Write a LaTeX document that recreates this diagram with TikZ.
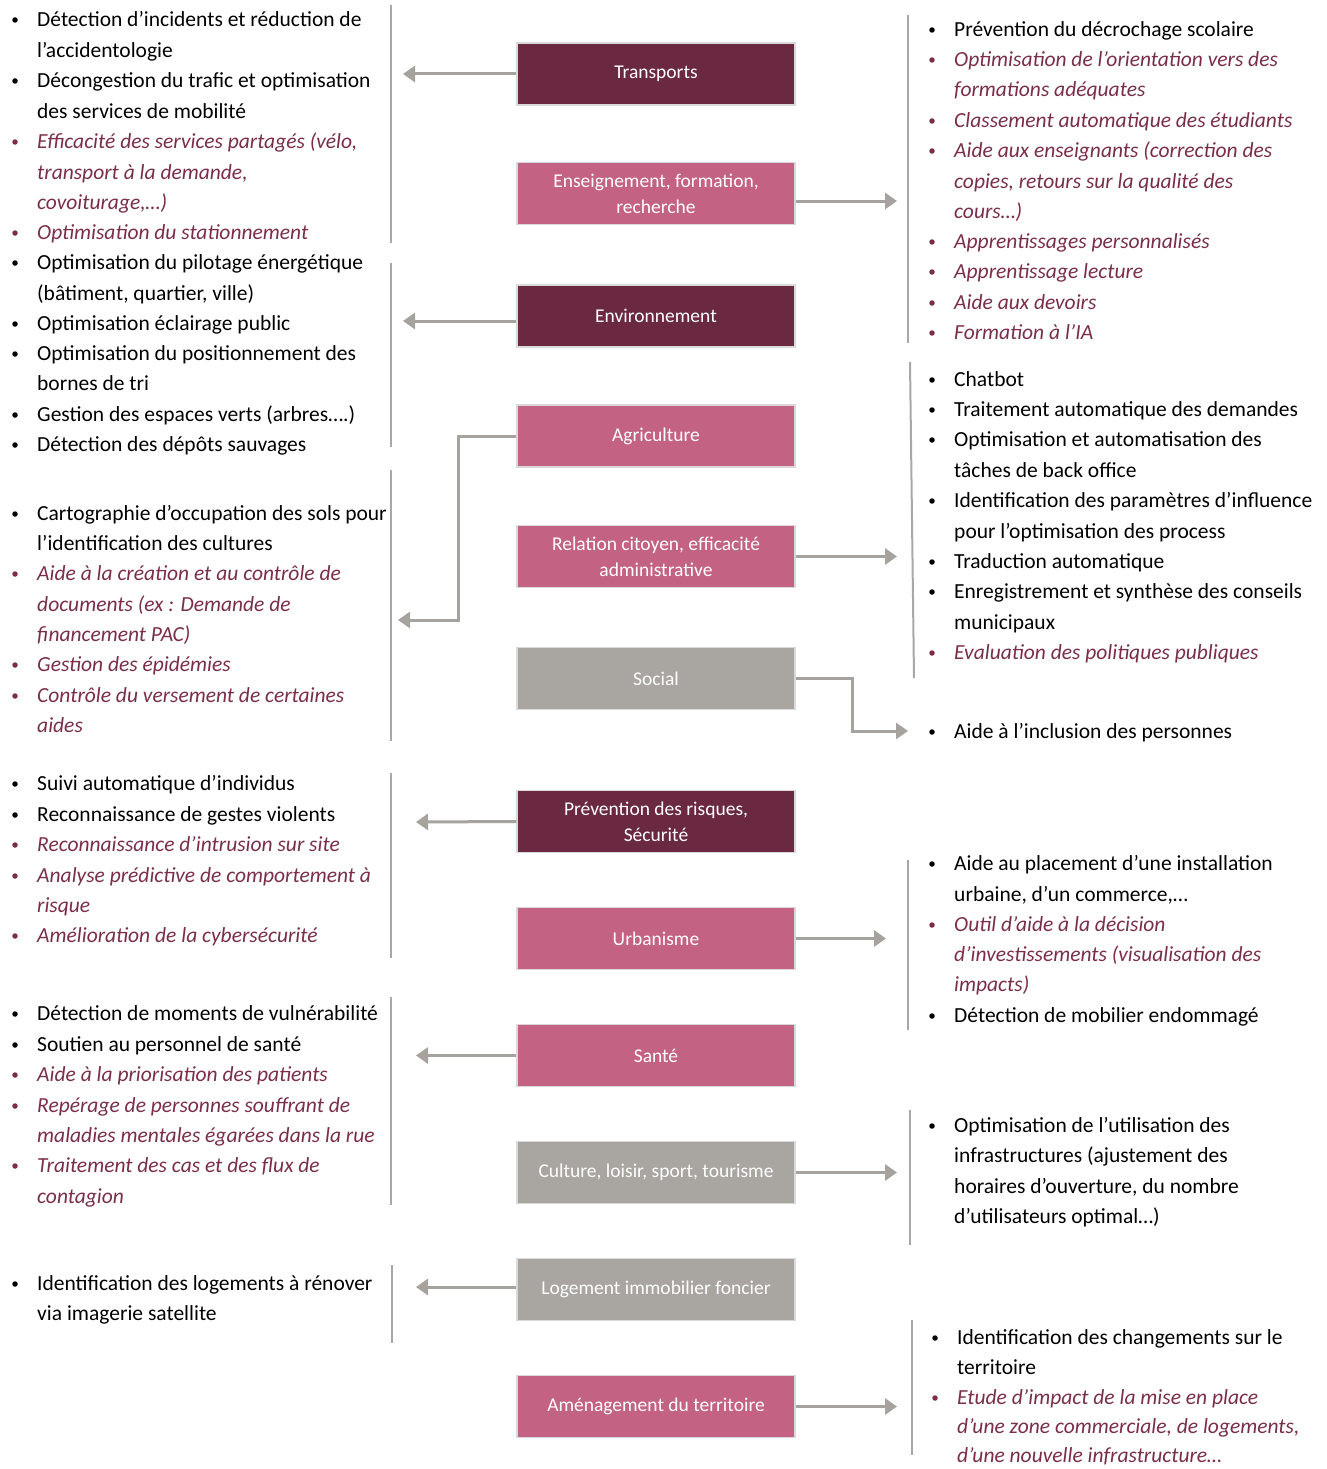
\documentclass[tikz,border=0pt]{standalone}
\usepackage{fontspec}
\setmainfont{Carlito}
\usetikzlibrary{arrows.meta}
\definecolor{cDark}{HTML}{6B2841}
\definecolor{cPink}{HTML}{C46283}
\definecolor{cGrey}{HTML}{A9A6A1}
\definecolor{cRed}{HTML}{7A2E4A}
\definecolor{cArrow}{HTML}{A6A39E}
\definecolor{cSep}{HTML}{A8A8A8}
\newcommand\txtfont{\fontsize{21.5}{26}\selectfont}
\newcommand\boxfont{\fontsize{19.5}{26}\selectfont}
\newcommand\ItN[4]{\node[txt,name=#1] at (#2+25,#3) {#4}; \node[bul,name=#1b] at (#2+3,#3) {};}
\newcommand\ItI[4]{\node[txti,name=#1] at (#2+25,#3) {#4}; \node[bul,fill=cRed,name=#1b] at (#2+3,#3) {};}
\newcommand\CoN[4]{\node[txt,name=#1] at (#2+25,#3) {#4};}
\newcommand\CoI[4]{\node[txti,name=#1] at (#2+25,#3) {#4};}
\tikzset{
 box/.style={minimum width=278pt, minimum height=62pt, inner sep=0pt, text=white, font=\boxfont, align=center, draw=black!15, line width=1.2pt},
 dk/.style={box, fill=cDark}, pk/.style={box, fill=cPink}, gy/.style={box, fill=cGrey},
 txt/.style={anchor=mid west, inner sep=0pt, font=\txtfont, yshift=-4.5pt},
 txti/.style={txt, text=cRed, font=\txtfont\itshape},
 bul/.style={circle, fill=black, inner sep=0pt, minimum size=5.5pt},
 arr/.style={draw=cArrow, line width=3pt, -{Triangle[length=12pt,width=16pt]}},
 sep/.style={draw=cSep, line width=2pt}
}
\begin{document}
\begin{tikzpicture}[x=1pt,y=-1pt]
\useasboundingbox[fill=white] (0,0) rectangle (1327,1469);
% boxes
\node[dk] (tr) at (656,74) {Transports};
\node[pk] (en) at (656,193.5) {Enseignement, formation,\\recherche};
\node[dk] (env) at (656,316) {Environnement};
\node[pk] (ag) at (656,436) {Agriculture};
\node[pk] (rc) at (656,556.5) {Relation citoyen, efficacité\\administrative};
\node[gy] (so) at (656,678.5) {Social};
\node[dk] (pr) at (656,821.5) {Prévention des risques,\\Sécurité};
\node[pk] (ur) at (656,938.5) {Urbanisme};
\node[pk] (sa) at (656,1055.5) {Santé};
\node[gy] (cu) at (656,1172.5) {Culture, loisir, sport, tourisme};
\node[gy] (lo) at (656,1289.5) {Logement immobilier foncier};
\node[pk] (am) at (656,1406.5) {Aménagement du territoire};
% connector ends
\coordinate (trE) at (403,74);
\coordinate (envE) at (403,321);
\coordinate (agE) at (398,620);
\coordinate (prE) at (416,822);
\coordinate (saE) at (416,1055.5);
\coordinate (loE) at (416,1287);
\coordinate (enE) at (897,201);
\coordinate (rcE) at (897,556.5);
\coordinate (soE) at (908,731);
\coordinate (urE) at (886,938.5);
\coordinate (cuE) at (897,1172.5);
\coordinate (amE) at (897,1406.5);
\draw[arr] (tr.west) -- (trE);
\draw[arr] (env.west |- envE) -- (envE);
\draw[arr] (ag.west) -- (458,436) -- (458,620) -- (agE);
\draw[arr] (pr.west) -- (prE);
\draw[arr] (sa.west) -- (saE);
\draw[arr] (lo.west |- loE) -- (loE);
\draw[arr] (en.east |- enE) -- (enE);
\draw[arr] (rc.east) -- (rcE);
\draw[arr] (so.east) -- (852,678.5) -- (852,731) -- (soE);
\draw[arr] (ur.east) -- (urE);
\draw[arr] (cu.east) -- (cuE);
\draw[arr] (am.east) -- (amE);
% separators
\draw[sep] (391,5) -- (391,243);
\draw[sep] (391,263) -- (391,447);
\draw[sep] (391,470) -- (391,741);
\draw[sep] (391,773) -- (391,958);
\draw[sep] (391,997) -- (391,1205);
\draw[sep] (392,1265) -- (392,1343);
\draw[sep] (908,15) -- (908,343);
\draw[sep] (910,362) -- (914,678);
\draw[sep] (908,860) -- (908,1030);
\draw[sep] (910,1110) -- (910,1245);
\draw[sep] (912,1320) -- (912,1455);
% left texts
\ItN{a1}{12}{20}{Détection d’incidents et réduction de}
\CoN{a1c}{12}{51}{l’accidentologie}
\ItN{a2}{12}{81}{Décongestion du trafic et optimisation}
\CoN{a2c}{12}{112}{des services de mobilité}
\ItI{a3}{12}{142}{Efficacité des services partagés (vélo,}
\CoI{a3c}{12}{173}{transport à la demande,}
\CoI{a3d}{12}{203}{covoiturage,…)}
\ItI{a4}{12}{233}{Optimisation du stationnement}
\ItN{b1}{12}{263}{Optimisation du pilotage énergétique}
\CoN{b1c}{12}{294}{(bâtiment, quartier, ville)}
\ItN{b2}{12}{324}{Optimisation éclairage public}
\ItN{b3}{12}{354}{Optimisation du positionnement des}
\CoN{b3c}{12}{384}{bornes de tri}
\ItN{b4}{12}{415}{Gestion des espaces verts (arbres….)}
\ItN{b5}{12}{445}{Détection des dépôts sauvages}
\ItN{c1}{12}{514}{Cartographie d’occupation des sols pour}
\CoN{c1c}{12}{544}{l’identification des cultures}
\ItI{c2}{12}{574}{Aide à la création et au contrôle de}
\CoI{c2c}{12}{605}{documents (ex : Demande de}
\CoI{c2d}{12}{635}{financement PAC)}
\ItI{c3}{12}{665}{Gestion des épidémies}
\ItI{c4}{12}{696}{Contrôle du versement de certaines}
\CoI{c4c}{12}{726}{aides}
\ItN{d1}{12}{784}{Suivi automatique d’individus}
\ItN{d2}{12}{815}{Reconnaissance de gestes violents}
\ItI{d3}{12}{845}{Reconnaissance d’intrusion sur site}
\ItI{d4}{12}{876}{Analyse prédictive de comportement à}
\CoI{d4c}{12}{906}{risque}
\ItI{d5}{12}{936}{Amélioration de la cybersécurité}
\ItN{e1}{12}{1014}{Détection de moments de vulnérabilité}
\ItN{e2}{12}{1045}{Soutien au personnel de santé}
\ItI{e3}{12}{1075}{Aide à la priorisation des patients}
\ItI{e4}{12}{1106}{Repérage de personnes souffrant de}
\CoI{e4c}{12}{1136}{maladies mentales égarées dans la rue}
\ItI{e5}{12}{1166}{Traitement des cas et des flux de}
\CoI{e5c}{12}{1197}{contagion}
\ItN{f1}{12}{1284}{Identification des logements à rénover}
\CoN{f1c}{12}{1314}{via imagerie satellite}
% right texts
\ItN{g1}{929}{30}{Prévention du décrochage scolaire}
\ItI{g2}{929}{60}{Optimisation de l’orientation vers des}
\CoI{g2c}{929}{90}{formations adéquates}
\ItI{g3}{929}{121}{Classement automatique des étudiants}
\ItI{g4}{929}{151}{Aide aux enseignants (correction des}
\CoI{g4c}{929}{182}{copies, retours sur la qualité des}
\CoI{g4d}{929}{212}{cours…)}
\ItI{g5}{929}{242}{Apprentissages personnalisés}
\ItI{g6}{929}{272}{Apprentissage lecture}
\ItI{g7}{929}{303}{Aide aux devoirs}
\ItI{g8}{929}{333}{Formation à l’IA}
\ItN{h1}{929}{380}{Chatbot}
\ItN{h2}{929}{410}{Traitement automatique des demandes}
\ItN{h3}{929}{440}{Optimisation et automatisation des}
\CoN{h3c}{929}{471}{tâches de back office}
\ItN{h4}{929}{501}{Identification des paramètres d’influence}
\CoN{h4c}{929}{532}{pour l’optimisation des process}
\ItN{h5}{929}{562}{Traduction automatique}
\ItN{h6}{929}{592}{Enregistrement et synthèse des conseils}
\CoN{h6c}{929}{623}{municipaux}
\ItI{h7}{929}{653}{Evaluation des politiques publiques}
\ItN{k1}{929}{732}{Aide à l’inclusion des personnes}
\ItN{m1}{929}{864}{Aide au placement d’une installation}
\CoN{m1c}{929}{895}{urbaine, d’un commerce,…}
\ItI{m2}{929}{925}{Outil d’aide à la décision}
\CoI{m2c}{929}{955}{d’investissements (visualisation des}
\CoI{m2d}{929}{985}{impacts)}
\ItN{m3}{929}{1016}{Détection de mobilier endommagé}
\ItN{n1}{929}{1126}{Optimisation de l’utilisation des}
\CoN{n1c}{929}{1156}{infrastructures (ajustement des}
\CoN{n1d}{929}{1187}{horaires d’ouverture, du nombre}
\CoN{n1e}{929}{1217}{d’utilisateurs optimal…)}
\ItN{p1}{932}{1338}{Identification des changements sur le}
\CoN{p1c}{932}{1368}{territoire}
\ItI{p2}{932}{1398}{Etude d’impact de la mise en place}
\CoI{p2c}{932}{1427}{d’une zone commerciale, de logements,}
\CoI{p2d}{932}{1456}{d’une nouvelle infrastructure…}
\end{tikzpicture}
\end{document}
